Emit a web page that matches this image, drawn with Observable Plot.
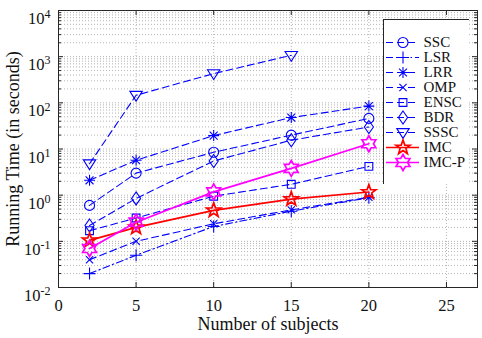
<!DOCTYPE html>
<html>
<head>
<meta charset="utf-8">
<script src="https://cdn.jsdelivr.net/npm/d3@7"></script>
<script src="https://cdn.jsdelivr.net/npm/@observablehq/plot@0.6"></script>
<style>
  html, body { margin: 0; padding: 0; background: #fff; }
  #wrap { position: relative; width: 482px; height: 338px; }
  #legend { position: absolute; left: 383px; top: 19px; }
  svg { font-family: "Liberation Serif", "Times New Roman", serif; }
</style>
</head>
<body>
<div id="wrap"><div id="chart"></div><div id="legend"></div></div>
<script>
// ---- data ----
const subjects = [2, 5, 10, 15, 20];
const ssc  = [0.6, 3, 8.5, 20, 46];
const lsr  = [0.02, 0.05, 0.21, 0.45, 0.88];
const lrr  = [2.1, 5.7, 19.5, 48, 85];
const omp  = [0.04, 0.1, 0.24, 0.48, 0.9];
const ensc = [0.17, 0.32, 0.95, 1.72, 4.2];
const bdr  = [0.22, 0.85, 5.5, 15.5, 30];
const sssc = [4.8, 146, 430, 1070];
const imc  = [0.105, 0.2, 0.47, 0.82, 1.17];
const imcp = [0.07, 0.26, 1.18, 3.8, 13];
const seriesNames = ["SSC", "LSR", "LRR", "OMP", "ENSC", "BDR", "SSSC", "IMC", "IMC-P"];
const xTicks = [0, 5, 10, 15, 20, 25];
const yDecades = [1e-2, 1e-1, 1e0, 1e1, 1e2, 1e3, 1e4];

// ---- custom marker symbols (MATLAB-like) ----
const sym = (fn) => ({draw(ctx, size) { fn(ctx, Math.sqrt(size / Math.PI)); }});
const S = {
  circle: sym((c, R) => { c.moveTo(R, 0); c.arc(0, 0, R, 0, 2 * Math.PI); }),
  plus: sym((c, R) => { c.moveTo(-R, 0); c.lineTo(R, 0); c.moveTo(0, -R); c.lineTo(0, R); }),
  asterisk: sym((c, R) => {
    const d = R * 0.72;
    c.moveTo(-R, 0); c.lineTo(R, 0); c.moveTo(0, -R); c.lineTo(0, R);
    c.moveTo(-d, -d); c.lineTo(d, d); c.moveTo(-d, d); c.lineTo(d, -d);
  }),
  times: sym((c, R) => { const d = R * 0.72; c.moveTo(-d, -d); c.lineTo(d, d); c.moveTo(-d, d); c.lineTo(d, -d); }),
  square: sym((c, R) => { const h = R * 0.78; c.moveTo(-h, -h); c.lineTo(h, -h); c.lineTo(h, h); c.lineTo(-h, h); c.closePath(); }),
  diamond: sym((c, R) => { const w = R * 0.7; c.moveTo(0, -R); c.lineTo(w, 0); c.lineTo(0, R); c.lineTo(-w, 0); c.closePath(); }),
  triDown: sym((c, R) => { c.moveTo(-R, -R * 0.62); c.lineTo(R, -R * 0.62); c.lineTo(0, R * 0.95); c.closePath(); }),
  pentagram: sym((c, R) => {
    const r = R * 0.4;
    for (let i = 0; i < 10; i++) {
      const a = -Math.PI / 2 + i * Math.PI / 5, rr = i % 2 ? r : R;
      const x = rr * Math.cos(a), y = rr * Math.sin(a);
      i ? c.lineTo(x, y) : c.moveTo(x, y);
    }
    c.closePath();
  }),
  hexagram: sym((c, R) => {
    const r = R / Math.sqrt(3);
    for (let i = 0; i < 12; i++) {
      const a = -Math.PI / 2 + i * Math.PI / 6, rr = i % 2 ? r : R;
      const x = rr * Math.cos(a), y = rr * Math.sin(a);
      i ? c.lineTo(x, y) : c.moveTo(x, y);
    }
    c.closePath();
  })
};

const BLUE = "#0000ff", RED = "#ff0000", MAG = "#ff00ff";
const DASH = "7,4", DASHDOT = "7,3,1.5,3";
const styles = {
  "SSC":   {values: ssc,  stroke: BLUE, dash: DASH,    width: 1.1, symbol: S.circle,    r: 5},
  "LSR":   {values: lsr,  stroke: BLUE, dash: DASHDOT, width: 1.1, symbol: S.plus,      r: 6},
  "LRR":   {values: lrr,  stroke: BLUE, dash: DASH,    width: 1.1, symbol: S.asterisk,  r: 5.5},
  "OMP":   {values: omp,  stroke: BLUE, dash: DASH,    width: 1.1, symbol: S.times,     r: 5},
  "ENSC":  {values: ensc, stroke: BLUE, dash: DASH,    width: 1.1, symbol: S.square,    r: 5},
  "BDR":   {values: bdr,  stroke: BLUE, dash: DASH,    width: 1.1, symbol: S.diamond,   r: 6.5},
  "SSSC":  {values: sssc, stroke: BLUE, dash: DASH,    width: 1.1, symbol: S.triDown,   r: 6.2},
  "IMC":   {values: imc,  stroke: RED,  dash: null,    width: 1.7, symbol: S.pentagram, r: 7.5},
  "IMC-P": {values: imcp, stroke: MAG,  dash: null,    width: 1.7, symbol: S.hexagram,  r: 8}
};

const rows = seriesNames.map(name => styles[name].values.map((v, i) => ({name, x: subjects[i], y: v})));

// minor log values for grid/ticks
const yMinor = [];
for (let e = -2; e < 4; e++) for (let k = 2; k <= 9; k++) yMinor.push(k * Math.pow(10, e));

const INK = "#262626";
const GRID = "#b4b4b4";

const marks = [
  Plot.ruleY(yMinor, {y: d => d, stroke: GRID, strokeWidth: 1, strokeDasharray: "1,2"}),
  Plot.ruleY(yDecades, {y: d => d, stroke: GRID, strokeWidth: 1, strokeDasharray: "1,2"}),
  Plot.ruleX(xTicks.filter(d => d > 0), {x: d => d, stroke: GRID, strokeWidth: 1, strokeDasharray: "1,2"}),
];

seriesNames.forEach((name, si) => {
  const s = styles[name];
  marks.push(Plot.line(rows[si], {x: "x", y: "y", stroke: s.stroke, strokeWidth: s.width, strokeDasharray: s.dash || undefined}));
  marks.push(Plot.dot(rows[si], {x: "x", y: "y", symbol: s.symbol, r: s.r, stroke: s.stroke, strokeWidth: s.width, fill: "none"}));
});

const xTickLen = 5 / (419 / 27);
marks.push(
  Plot.ruleX(xTicks, {x: d => d, y1: 1e-2, y2: 1e-2 * Math.pow(10, 5 / 46.2), stroke: INK}),
  Plot.ruleX(xTicks, {x: d => d, y1: 1e4, y2: 1e4 / Math.pow(10, 5 / 46.2), stroke: INK}),
  Plot.ruleY(yDecades, {y: d => d, x1: 0, x2: xTickLen, stroke: INK}),
  Plot.ruleY(yDecades, {y: d => d, x1: 27, x2: 27 - xTickLen, stroke: INK}),
  Plot.ruleY(yMinor, {y: d => d, x1: 0, x2: xTickLen * 0.6, stroke: INK}),
  Plot.ruleY(yMinor, {y: d => d, x1: 27, x2: 27 - xTickLen * 0.6, stroke: INK}),
  Plot.frame({stroke: INK, strokeWidth: 1}),
  Plot.axisX({ticks: xTicks, tickSize: 0, tickPadding: 12, fontSize: 16.5, label: null, tickFormat: d => String(d)}),
  Plot.axisY({ticks: yDecades, tickSize: 0, tickPadding: 8, fontSize: 16.5, label: null,
              tickFormat: d => String(Math.round(Math.log10(d)))}),
  Plot.text(["Number of subjects"], {frameAnchor: "bottom", lineAnchor: "middle", textAnchor: "middle", dy: 37, fontSize: 18, fill: "#111"}),
  Plot.text(["Running Time (in seconds)"], {frameAnchor: "left", lineAnchor: "middle", textAnchor: "middle", dx: -45, rotate: -90, fontSize: 18, fill: "#111"})
);

const chart = Plot.plot({
  width: 482, height: 338,
  marginLeft: 58, marginRight: 5, marginTop: 10, marginBottom: 51,
  style: {fontFamily: "Liberation Serif", background: "white", color: "#111"},
  x: {domain: [0, 27]},
  y: {type: "log", domain: [1e-2, 1e4]},
  marks
});

// superscript exponents on y tick labels
d3.select(chart).selectAll('g[aria-label="y-axis tick label"] text').each(function() {
  const e = this.textContent;
  const t = d3.select(this);
  t.text("").attr("dy", "0.5em");
  t.append("tspan").text("10");
  t.append("tspan").attr("dy", "-0.48em").attr("font-size", "12px").text(e);
});
document.getElementById("chart").appendChild(chart);

// ---- legend (separate small Plot overlay) ----
const legMarks = [Plot.frame({fill: "white", stroke: INK, strokeWidth: 1})];
seriesNames.forEach(name => {
  const s = styles[name];
  legMarks.push(
    Plot.ruleY([name], {y: d => d, x1: 3, x2: 36, stroke: s.stroke, strokeWidth: s.width, strokeDasharray: s.dash || undefined}),
    Plot.dot([name], {y: d => d, x: () => 19.5, symbol: s.symbol, r: s.r, stroke: s.stroke, strokeWidth: s.width, fill: "none"})
  );
});
legMarks.push(Plot.text(seriesNames, {y: d => d, x: () => 40, text: d => d, textAnchor: "start", fontSize: 15, fill: "#111"}));
const legend = Plot.plot({
  width: 86, height: 165,
  marginLeft: 0, marginRight: 0, marginTop: 0, marginBottom: 0,
  style: {fontFamily: "Liberation Serif", background: "transparent"},
  x: {type: "identity", axis: null},
  y: {type: "point", domain: seriesNames, range: [12.5, 154], axis: null},
  marks: legMarks
});
document.getElementById("legend").appendChild(legend);
</script>
</body>
</html>
